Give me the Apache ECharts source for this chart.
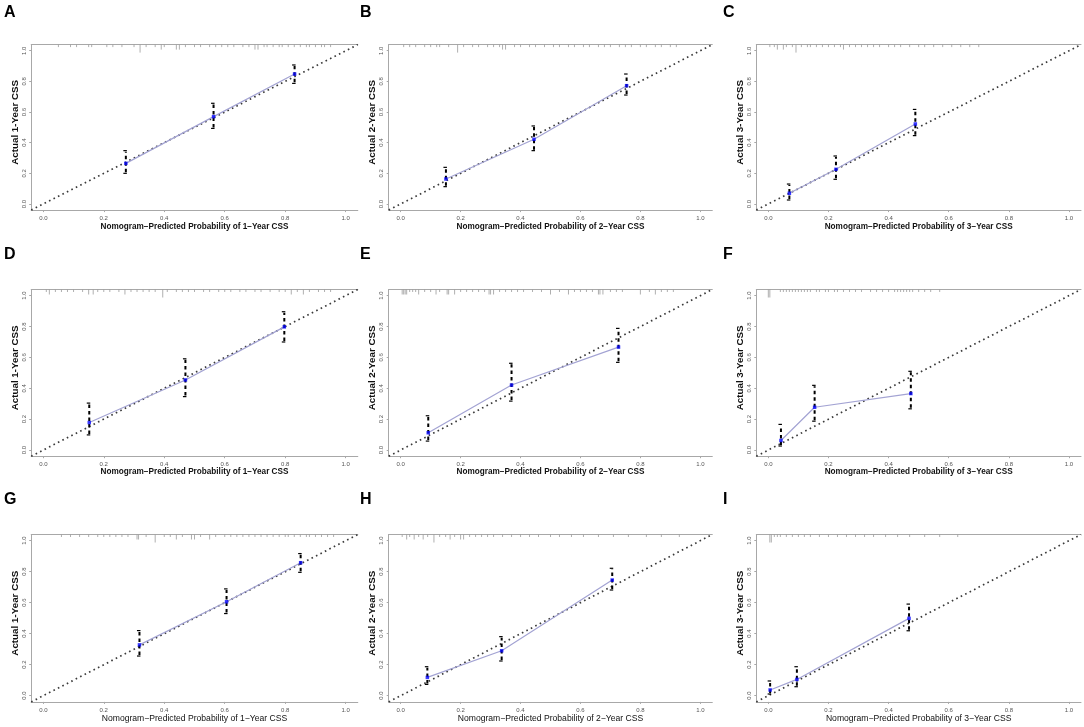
<!DOCTYPE html>
<html><head><meta charset="utf-8">
<script src="https://cdn.jsdelivr.net/npm/echarts@6/dist/echarts.min.js"></script>
<style>html,body{margin:0;padding:0;background:#fff}#c{width:1084px;height:727px}</style>
</head><body><div id="c"></div>
<script>
// ---------- DATA ----------
const panelLetters = ['A','B','C','D','E','F','G','H','I'];
const xTitles = [
  'Nomogram\u2212Predicted Probability of 1\u2212Year CSS',
  'Nomogram\u2212Predicted Probability of 2\u2212Year CSS',
  'Nomogram\u2212Predicted Probability of 3\u2212Year CSS',
  'Nomogram\u2212Predicted Probability of 1\u2212Year CSS',
  'Nomogram\u2212Predicted Probability of 2\u2212Year CSS',
  'Nomogram\u2212Predicted Probability of 3\u2212Year CSS',
  'Nomogram\u2212Predicted Probability of 1\u2212Year CSS',
  'Nomogram\u2212Predicted Probability of 2\u2212Year CSS',
  'Nomogram\u2212Predicted Probability of 3\u2212Year CSS'
];
const yTitles = ['Actual 1-Year CSS','Actual 2-Year CSS','Actual 3-Year CSS',
                 'Actual 1-Year CSS','Actual 2-Year CSS','Actual 3-Year CSS',
                 'Actual 1-Year CSS','Actual 2-Year CSS','Actual 3-Year CSS'];
const tickValues = [0, 0.2, 0.4, 0.6, 0.8, 1.0];
const tickLabels = ['0.0','0.2','0.4','0.6','0.8','1.0'];
const axisRange = [-0.04, 1.04];

// predicted, observed, lower CI, upper CI
const predA = [0.273, 0.563, 0.831], obsA = [0.265, 0.570, 0.848], loA = [0.200, 0.493, 0.787], hiA = [0.348, 0.657, 0.907];
const predB = [0.151, 0.445, 0.754], obsB = [0.163, 0.422, 0.772], loB = [0.113, 0.348, 0.711], hiB = [0.239, 0.509, 0.848];
const predC = [0.070, 0.225, 0.489], obsC = [0.070, 0.226, 0.522], loC = [0.026, 0.161, 0.446], hiC = [0.130, 0.313, 0.617];
const predD = [0.152, 0.470, 0.797], obsD = [0.178, 0.454, 0.798], loD = [0.098, 0.346, 0.700], hiD = [0.304, 0.591, 0.896];
const predE = [0.092, 0.370, 0.727], obsE = [0.112, 0.421, 0.667], loE = [0.058, 0.317, 0.568], hiE = [0.222, 0.562, 0.788];
const predF = [0.042, 0.154, 0.474], obsF = [0.062, 0.277, 0.366], loF = [0.026, 0.187, 0.267], hiF = [0.166, 0.419, 0.510];
const predG = [0.318, 0.606, 0.851], obsG = [0.328, 0.606, 0.858], loG = [0.256, 0.530, 0.796], hiG = [0.420, 0.689, 0.917];
const predH = [0.089, 0.337, 0.706], obsH = [0.118, 0.290, 0.746], loH = [0.073, 0.224, 0.682], hiH = [0.187, 0.381, 0.822];
const predI = [0.006, 0.095, 0.468], obsI = [0.037, 0.105, 0.499], loI = [0.011, 0.058, 0.419], hiI = [0.095, 0.187, 0.591];

// rug (distribution of predictions): [predicted value, relative frequency 1..3]
const rugA = [[0.05,1],[0.09,1],[0.11,1],[0.15,1],[0.16,1],[0.21,1],[0.23,1],[0.26,1],[0.30,1],[0.32,3],[0.34,1],[0.37,1],[0.39,2],[0.40,1],[0.44,2],[0.45,2],[0.47,1],[0.50,1],[0.52,1],[0.55,1],[0.57,1],[0.59,1],[0.61,1],[0.63,1],[0.66,1],[0.68,1],[0.70,2],[0.71,2],[0.73,1],[0.74,1],[0.76,1],[0.78,1],[0.79,1],[0.81,1],[0.83,1],[0.85,1],[0.87,1],[0.88,1],[0.90,1],[0.92,1],[0.93,1],[0.95,1]];
const rugB = [[0.01,1],[0.03,1],[0.05,1],[0.08,1],[0.10,1],[0.12,1],[0.13,1],[0.16,1],[0.19,3],[0.21,1],[0.24,1],[0.26,1],[0.29,1],[0.31,1],[0.33,1],[0.34,2],[0.35,2],[0.38,1],[0.40,1],[0.43,1],[0.45,1],[0.48,1],[0.51,1],[0.53,1],[0.56,1],[0.58,1],[0.61,1],[0.63,1],[0.66,1],[0.68,1],[0.70,1],[0.73,1],[0.75,1],[0.77,1],[0.80,1],[0.82,1],[0.85,1],[0.87,1],[0.90,1],[0.92,1]];
const rugC = [[0.005,1],[0.02,1],[0.03,2],[0.05,2],[0.06,1],[0.08,1],[0.092,3],[0.11,1],[0.13,1],[0.14,1],[0.16,1],[0.18,1],[0.20,1],[0.22,1],[0.24,1],[0.25,2],[0.27,1],[0.29,1],[0.31,1],[0.33,1],[0.35,1],[0.37,1],[0.40,1],[0.42,1],[0.44,1],[0.47,1],[0.50,1],[0.52,1],[0.55,1],[0.58,1],[0.61,1],[0.64,1],[0.67,1],[0.70,1]];
const rugD = [[0.01,1],[0.02,2],[0.04,1],[0.06,1],[0.08,1],[0.10,1],[0.13,1],[0.15,2],[0.165,2],[0.18,1],[0.20,1],[0.22,1],[0.25,1],[0.27,2],[0.29,1],[0.31,1],[0.33,1],[0.35,1],[0.37,1],[0.395,3],[0.41,1],[0.44,1],[0.46,1],[0.48,1],[0.50,1],[0.53,1],[0.55,1],[0.58,1],[0.60,1],[0.62,1],[0.65,1],[0.67,1],[0.70,1],[0.72,1],[0.75,1],[0.78,1],[0.80,1],[0.82,2],[0.84,1],[0.86,2],[0.88,1],[0.91,1],[0.93,1],[0.95,1]];
const rugE = [[0.005,2],[0.01,2],[0.015,2],[0.02,2],[0.03,1],[0.04,1],[0.05,1],[0.06,2],[0.08,1],[0.10,1],[0.118,2],[0.13,1],[0.155,2],[0.16,2],[0.18,2],[0.20,1],[0.22,1],[0.24,1],[0.26,1],[0.28,1],[0.295,2],[0.30,2],[0.31,2],[0.33,1],[0.35,1],[0.37,1],[0.39,1],[0.41,1],[0.44,1],[0.47,1],[0.50,2],[0.53,1],[0.56,2],[0.58,1],[0.60,1],[0.62,1],[0.64,1],[0.66,2],[0.665,2],[0.675,2],[0.70,1],[0.72,1],[0.74,1],[0.80,2],[0.83,1],[0.85,2],[0.87,1],[0.89,1],[0.91,1]];
const rugF = [[0.0,3],[0.005,3],[0.04,1],[0.05,1],[0.06,1],[0.07,1],[0.08,1],[0.09,1],[0.10,1],[0.11,1],[0.12,1],[0.13,1],[0.14,1],[0.16,1],[0.17,1],[0.19,1],[0.20,1],[0.22,1],[0.23,1],[0.25,1],[0.27,1],[0.29,1],[0.31,1],[0.34,1],[0.36,1],[0.38,1],[0.40,1],[0.42,1],[0.43,1],[0.44,1],[0.45,1],[0.46,1],[0.47,1],[0.48,1],[0.50,1],[0.52,1],[0.54,1],[0.57,1]];
const rugG = [[0.06,1],[0.09,1],[0.12,1],[0.15,1],[0.18,1],[0.20,1],[0.22,1],[0.24,1],[0.26,1],[0.28,1],[0.31,2],[0.315,2],[0.34,1],[0.37,3],[0.40,1],[0.42,1],[0.44,2],[0.46,1],[0.49,2],[0.50,2],[0.52,1],[0.55,2],[0.57,1],[0.60,1],[0.62,1],[0.64,1],[0.66,1],[0.68,1],[0.70,1],[0.72,1],[0.74,1],[0.76,1],[0.78,1],[0.80,1],[0.81,1],[0.83,1],[0.85,1],[0.87,1],[0.88,1],[0.90,1],[0.92,1],[0.94,1],[0.96,1]];
const rugH = [[0.005,1],[0.02,2],[0.03,1],[0.045,2],[0.06,1],[0.075,2],[0.09,1],[0.111,3],[0.13,1],[0.15,1],[0.165,2],[0.18,1],[0.20,2],[0.21,2],[0.23,1],[0.25,1],[0.27,1],[0.29,1],[0.31,1],[0.34,1],[0.37,1],[0.40,1],[0.43,1],[0.46,1],[0.50,1],[0.53,1],[0.57,1],[0.61,1],[0.66,1],[0.71,1],[0.76,1],[0.82,1],[0.87,1],[0.93,1]];
const rugI = [[0.005,3],[0.01,3],[0.02,1],[0.03,1],[0.04,1],[0.06,1],[0.08,1],[0.10,1],[0.12,1],[0.14,1],[0.17,1],[0.20,1],[0.23,1],[0.26,1],[0.29,1],[0.32,1],[0.35,1],[0.39,1],[0.43,1],[0.47,1],[0.52,1],[0.57,1],[0.63,1]];

// ---------- BUILD ----------
const panels = [
  [predA, obsA, loA, hiA, rugA], [predB, obsB, loB, hiB, rugB], [predC, obsC, loC, hiC, rugC],
  [predD, obsD, loD, hiD, rugD], [predE, obsE, loE, hiE, rugE], [predF, obsF, loF, hiF, rugF],
  [predG, obsG, loG, hiG, rugG], [predH, obsH, loH, hiH, rugH], [predI, obsI, loI, hiI, rugI]
];

const colLayout = [{left: 31.2, width: 326.6}, {left: 388.7, width: 323.6}, {left: 756.3, width: 324.7}];
const rowLayout = [{top: 44.6, height: 165.5}, {top: 289.5, height: 166.7}, {top: 534.5, height: 167.4}];
const letterX = [4, 360, 723];
const letterY = [5, 247, 492];
const xNameGap = [13, 10, 12];
const FONT = 'Liberation Sans, Arial, Helvetica, sans-serif';

const grids = [], xAxes = [], yAxes = [], series = [], graphics = [];

panels.forEach((p, i) => {
  const r = Math.floor(i / 3), c = i % 3;
  grids.push({left: colLayout[c].left, width: colLayout[c].width, top: rowLayout[r].top, height: rowLayout[r].height, containLabel: false});

  const gridAxisLine = {show: true, onZero: false, lineStyle: {color: '#a8a8a8', width: 1}};
  xAxes.push({
    gridIndex: i, type: 'value', min: axisRange[0], max: axisRange[1], position: 'bottom',
    axisLine: gridAxisLine,
    axisTick: {show: true, length: 2, lineStyle: {color: '#a8a8a8'}, customValues: tickValues},
    axisLabel: {show: true, customValues: tickValues, fontSize: 6, color: '#555', margin: 5, fontFamily: FONT,
      formatter: v => tickLabels[tickValues.findIndex(t => Math.abs(t - v) < 1e-6)] },
    splitLine: {show: false},
    name: xTitles[i], nameLocation: 'middle', nameGap: xNameGap[r],
    nameTextStyle: {fontSize: r === 2 ? 8.6 : 8.2, fontWeight: r === 2 ? 'normal' : 'bold', color: '#111', fontFamily: FONT}
  });
  yAxes.push({
    gridIndex: i, type: 'value', min: axisRange[0], max: axisRange[1],
    axisLine: gridAxisLine,
    axisTick: {show: true, length: 2, lineStyle: {color: '#a8a8a8'}, customValues: tickValues},
    axisLabel: {show: true, customValues: tickValues, fontSize: 6, color: '#555', margin: 4, rotate: 90, fontFamily: FONT,
      formatter: v => tickLabels[tickValues.findIndex(t => Math.abs(t - v) < 1e-6)] },
    splitLine: {show: false},
    name: yTitles[i], nameLocation: 'middle', nameGap: 11,
    nameTextStyle: {fontSize: 9.8, fontWeight: 'bold', color: '#111', fontFamily: FONT, padding: [0, 0, 0, 10]}
  });

  graphics.push({type: 'text', left: letterX[c], top: letterY[r],
    style: {text: panelLetters[i], font: 'bold 16px ' + FONT, fill: '#000'}});
});

// top border axes (one per grid)
panels.forEach((p, i) => {
  xAxes.push({
    gridIndex: i, type: 'value', min: axisRange[0], max: axisRange[1], position: 'top',
    axisLine: {show: true, onZero: false, lineStyle: {color: '#a8a8a8', width: 1}},
    axisTick: {show: false}, axisLabel: {show: false}, splitLine: {show: false}
  });
});

panels.forEach((p, i) => {
  const [pred, obs, lo, hi, rug] = p;
  series.push({
    type: 'custom', xAxisIndex: i, yAxisIndex: i, silent: true, z: 1,
    data: rug.map(d => [d[0], d[1]]),
    encode: {x: 0},
    renderItem: (params, api) => {
      const x = api.value(0), w = api.value(1);
      const pt = api.coord([x, axisRange[1]]);
      const len = w >= 3 ? 8 : (w === 2 ? 5 : 2.5);
      return {type: 'line', shape: {x1: pt[0], y1: pt[1], x2: pt[0], y2: pt[1] + len},
        style: {stroke: '#9a9a9a', lineWidth: 0.8}};
    }
  });
  series.push({
    type: 'line', xAxisIndex: i, yAxisIndex: i, silent: true, z: 2,
    data: [[axisRange[0], axisRange[0]], [axisRange[1], axisRange[1]]],
    symbol: 'none', lineStyle: {color: '#3a3a3a', width: 1.7, type: [1.6, 3.4], cap: 'butt'}
  });
  series.push({
    type: 'line', xAxisIndex: i, yAxisIndex: i, silent: true, z: 3,
    data: pred.map((x, k) => [x, obs[k]]),
    symbol: 'none', lineStyle: {color: '#a3a3d3', width: 1.2}
  });
  series.push({
    type: 'custom', xAxisIndex: i, yAxisIndex: i, silent: true, z: 4,
    data: pred.map((x, k) => [x, lo[k], hi[k]]),
    encode: {x: 0, y: [1, 2]},
    renderItem: (params, api) => {
      const x = api.value(0);
      const a = api.coord([x, api.value(1)]), b = api.coord([x, api.value(2)]);
      return {type: 'group', children: [
        {type: 'line', shape: {x1: a[0], y1: a[1] - 1, x2: b[0], y2: b[1] + 1},
          style: {stroke: '#000', lineWidth: 2, lineDash: [3.5, 3]}},
        {type: 'line', shape: {x1: b[0] - 2.5, y1: b[1], x2: b[0] + 1, y2: b[1]},
          style: {stroke: '#000', lineWidth: 1.2}},
        {type: 'line', shape: {x1: a[0] - 2.5, y1: a[1], x2: a[0] + 1, y2: a[1]},
          style: {stroke: '#000', lineWidth: 1.2}}
      ]};
    }
  });
  series.push({
    type: 'scatter', xAxisIndex: i, yAxisIndex: i, silent: true, z: 5,
    data: pred.map((x, k) => [x, obs[k]]),
    symbol: 'rect', symbolSize: [3.5, 3.5], itemStyle: {color: '#0a0aff'}
  });
});

const chart = echarts.init(document.getElementById('c'), null, {renderer: 'canvas'});
chart.setOption({
  backgroundColor: '#fff',
  animation: false,
  grid: grids, xAxis: xAxes, yAxis: yAxes, series: series, graphic: graphics
});
</script></body></html>
